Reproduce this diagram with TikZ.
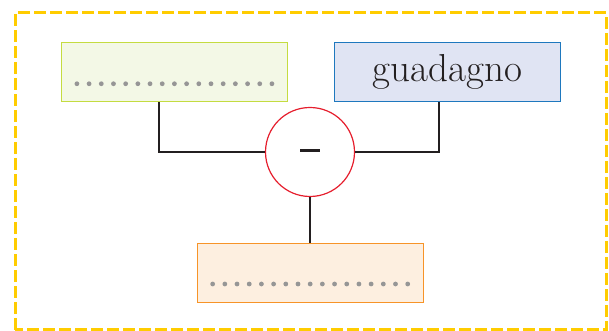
\documentclass[tikz,border=0pt]{standalone}
\usepackage{tikz}
\usetikzlibrary{shapes,arrows,positioning,calc}
\usepackage{xcolor}

\definecolor{frameyellow}{RGB}{255,204,0}
\definecolor{greenfill}{RGB}{243,248,230}
\definecolor{greenline}{RGB}{196,220,64}
\definecolor{bluefill}{RGB}{224,228,243}
\definecolor{blueline}{RGB}{30,120,190}
\definecolor{orangefill}{RGB}{253,239,224}
\definecolor{orangeline}{RGB}{247,148,40}
\definecolor{minusred}{RGB}{230,30,45}
\definecolor{inkdark}{RGB}{35,31,32}
\definecolor{dotgray}{RGB}{150,150,150}

\tikzset{
    box/.style={draw, rectangle, line width=1.2pt, minimum width=226pt, minimum height=59pt, inner sep=0pt},
    link/.style={draw=inkdark, line width=2pt},
    blankdot/.style={fill=dotgray}
}

\begin{document}
\begin{tikzpicture}[x=1pt, y=1pt]
    \useasboundingbox (0,0) rectangle (609,331);
    \draw[frameyellow, line width=3pt, dash pattern=on 11.7pt off 4.3pt] (15,1) rectangle (606,318);

    \node[box, draw=greenline, fill=greenfill] (ricavo) at (174.5,259) {};
    \node[box, draw=blueline, fill=bluefill, text=inkdark, font=\fontsize{39}{41}\selectfont] (guadagno) at (447.5,259) {guadagno};
    \node[box, draw=orangeline, fill=orangefill] (spesa) at (310.75,58) {};
    \node[draw=minusred, fill=white, circle, line width=1.2pt, minimum size=89pt, inner sep=0pt] (meno) at (310,179) {\textcolor{inkdark}{\rule[3pt]{20pt}{3.2pt}}};

    % blanks to fill in
    \foreach \i in {0,...,16} {
        \fill[blankdot] ($(ricavo.west)+(16+12.19*\i,-11.75)$) circle (2.4pt);
        \fill[blankdot] ($(spesa.west)+(15.5+12.19*\i,-11)$) circle (2.4pt);
    }

    \coordinate (gomitoL) at (159,179);
    \coordinate (gomitoR) at (439,179);
    \draw[link] (ricavo.south -| gomitoL) -- (gomitoL) -- (meno.west);
    \draw[link] (guadagno.south -| gomitoR) -- (gomitoR) -- (meno.east);
    \draw[link] (meno.south) -- (meno.south |- spesa.north);
\end{tikzpicture}
\end{document}
